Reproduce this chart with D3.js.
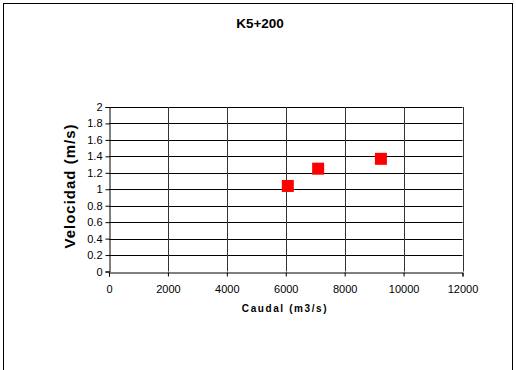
<!DOCTYPE html>
<html>
<head>
<meta charset="utf-8">
<script src="https://cdn.jsdelivr.net/npm/d3@7"></script>
<style>
  html, body { margin: 0; padding: 0; background: #fff; }
  svg { display: block; font-family: "Liberation Sans", Arial, sans-serif; }
</style>
</head>
<body>
<svg id="chart" width="516" height="370"></svg>
<script>
// Measured discharge vs. velocity at station K5+200
const caudal = [6070, 7100, 9230];
const velocidad = [1.04, 1.25, 1.37];
const xTicks = [0, 2000, 4000, 6000, 8000, 10000, 12000];
const yTicks = [0, 0.2, 0.4, 0.6, 0.8, 1, 1.2, 1.4, 1.6, 1.8, 2];

const svg = d3.select("#chart");

// outer frame
svg.append("rect")
  .attr("x", 3.5).attr("y", 3.5)
  .attr("width", 509).attr("height", 380)
  .attr("fill", "#fff").attr("stroke", "#000").attr("stroke-width", 1);

const plot = { left: 109, right: 462.5, top: 107, bottom: 271.5 };

const x = d3.scaleLinear().domain([0, 12000]).range([plot.left, plot.right]);
const y = d3.scaleLinear().domain([0, 2]).range([plot.bottom, plot.top]);

// grid
const grid = svg.append("g");
grid.selectAll("line.h").data(yTicks.slice(1)).join("line")
  .attr("x1", plot.left).attr("x2", plot.right)
  .attr("y1", d => Math.round(y(d)) + 0.5).attr("y2", d => Math.round(y(d)) + 0.5)
  .attr("stroke", "#000").attr("stroke-width", 1);
grid.selectAll("line.v").data(xTicks.slice(1)).join("line")
  .attr("y1", plot.top).attr("y2", plot.bottom)
  .attr("x1", d => Math.round(x(d)) + 0.5).attr("x2", d => Math.round(x(d)) + 0.5)
  .attr("stroke", "#333").attr("stroke-width", 1);

// axes
const yAxis = d3.axisLeft(y).tickValues(yTicks).tickSize(4).tickPadding(3)
  .tickFormat(d => d3.format("~g")(d));
const xAxis = d3.axisBottom(x).tickValues(xTicks).tickSize(4).tickPadding(9)
  .tickFormat(d => d);

const gy = svg.append("g").attr("transform", `translate(${Math.round(plot.left) + 0.5},0)`).call(yAxis);
const gx = svg.append("g").attr("transform", `translate(0,${Math.round(plot.bottom) + 0.5})`).call(xAxis);
[gy, gx].forEach(g => {
  g.select(".domain").attr("stroke", "#000");
  g.selectAll(".tick line").attr("stroke", "#000");
  g.selectAll(".tick text").attr("fill", "#000")
    .style("font-family", "'Liberation Sans', Arial, sans-serif").style("font-size", "11px");
});

// markers
svg.append("g").selectAll("rect").data(caudal).join("rect")
  .attr("x", (d) => x(d) - 6)
  .attr("y", (d, i) => y(velocidad[i]) - 6)
  .attr("width", 12).attr("height", 12)
  .attr("fill", "#ff0000");

// titles
svg.append("text")
  .attr("x", 260).attr("y", 28)
  .attr("text-anchor", "middle")
  .style("font-weight", "bold").style("font-size", "13.5px")
  .text("K5+200");

svg.append("text")
  .attr("x", 285).attr("y", 312)
  .attr("text-anchor", "middle")
  .style("font-weight", "bold").style("font-size", "10px")
  .style("letter-spacing", "1.6px")
  .text("Caudal (m3/s)");

svg.append("text")
  .attr("transform", `translate(75,186) rotate(-90)`)
  .attr("text-anchor", "middle")
  .style("font-weight", "bold").style("font-size", "15px")
  .style("letter-spacing", "1px")
  .text("Velocidad (m/s)");
</script>
</body>
</html>
